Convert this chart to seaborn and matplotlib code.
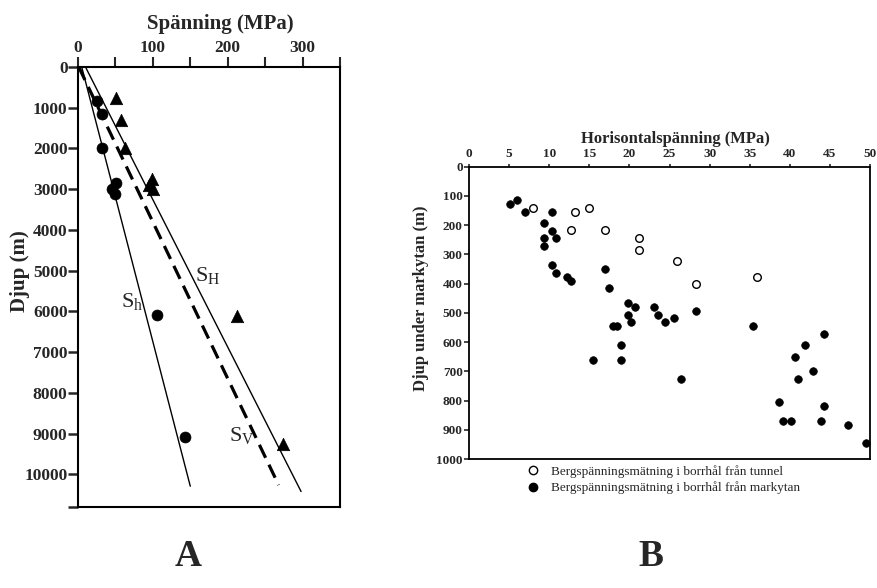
import matplotlib
matplotlib.use("Agg")
import matplotlib.pyplot as plt
import seaborn as sns
from matplotlib.lines import Line2D

# ---- Panel A: stress vs depth ----
# Minimum horizontal stress (circles)
sh_min_stress = [25, 32, 32, 51, 45, 50, 106, 143]
sh_min_depth = [845, 1150, 2000, 2850, 3000, 3115, 6095, 9075]
# Maximum horizontal stress (triangles)
sh_max_stress = [51, 57, 63, 99, 95, 100, 212, 274]
sh_max_depth = [750, 1300, 1980, 2740, 2890, 3000, 6100, 9250]

# Trend lines: stress (MPa) at top and bottom depth (m)
trend_sh_stress = [5, 150]
trend_sh_depth = [0, 10290]
trend_sH_stress = [10, 298]
trend_sH_depth = [0, 10420]
trend_sv_stress = [1, 268]
trend_sv_depth = [0, 10260]

stress_ticks_a = [0, 50, 100, 150, 200, 250, 300, 350]
stress_labels_a = ["0", "", "100", "", "200", "", "300", ""]
depth_ticks_a = [0, 1000, 2000, 3000, 4000, 5000, 6000, 7000, 8000, 9000, 10000, 10800]
depth_labels_a = ["0", "1000", "2000", "3000", "4000", "5000", "6000",
                  "7000", "8000", "9000", "10000", ""]

# ---- Panel B: horizontal stress vs depth below surface ----
tunnel_stress = [8.0, 13.2, 15.0, 12.7, 16.9, 21.2, 21.2, 25.9, 28.3, 35.9]
tunnel_depth = [142, 154, 142, 217, 217, 245, 285, 323, 402, 376]

surface_stress = [5.1, 6.0, 7.0, 10.3, 9.4, 10.3, 9.4, 10.8, 9.4, 10.3,
                  10.8, 12.2, 12.7, 16.9, 17.4, 19.8, 20.75, 19.8, 20.2, 23.1,
                  23.6, 24.5, 25.5, 28.3, 17.9, 18.4, 18.9, 35.4, 44.3, 41.9,
                  40.6, 15.5, 18.9, 26.4, 42.9, 41.0, 38.7, 44.3, 39.1, 40.1,
                  43.9, 47.2, 49.5]
surface_depth = [129, 115, 154, 154, 194, 219, 245, 245, 271, 336,
                 362, 376, 390, 350, 414, 465, 481, 507, 530, 481,
                 507, 530, 519, 494, 545, 545, 610, 545, 571, 610,
                 650, 661, 661, 727, 700, 727, 804, 818, 870, 870,
                 870, 882, 946]

stress_ticks_b = list(range(0, 51, 5))
depth_ticks_b = list(range(0, 1001, 100))

legend_labels = ["Bergspänningsmätning i borrhål från tunnel",
                 "Bergspänningsmätning i borrhål från markytan"]

sns.set_theme(style="ticks")
plt.rcParams["font.family"] = ["Liberation Serif", "DejaVu Serif"]
plt.rcParams["mathtext.fontset"] = "custom"
plt.rcParams["mathtext.rm"] = "Liberation Serif"
plt.rcParams["mathtext.it"] = "Liberation Serif:italic"
plt.rcParams["mathtext.bf"] = "Liberation Serif:bold"

W, H = 877, 588
fig = plt.figure(figsize=(W / 100, H / 100), dpi=100)


def fx(px):
    return px / W


def fy(py):
    return 1 - py / H


# ---------------- Panel A ----------------
axA = fig.add_axes([fx(78), fy(507), fx(340) - fx(78), fy(67) - fy(507)])

sns.lineplot(x=trend_sh_stress, y=trend_sh_depth, ax=axA, color="black",
             linewidth=1.0, sort=False, estimator=None)
sns.lineplot(x=trend_sH_stress, y=trend_sH_depth, ax=axA, color="black",
             linewidth=1.0, sort=False, estimator=None)
sns.lineplot(x=trend_sv_stress, y=trend_sv_depth, ax=axA, color="black",
             linewidth=2.3, sort=False, estimator=None, dashes=False,
             linestyle=(0, (4.5, 2.4)))

sns.scatterplot(x=sh_min_stress, y=sh_min_depth, ax=axA, marker="o",
                color="black", s=62, edgecolor="black", linewidth=0.5)
sns.scatterplot(x=sh_max_stress, y=sh_max_depth, ax=axA, marker="^",
                color="black", s=80, edgecolor="black", linewidth=0.5)

axA.set_xlim(0, 350)
axA.set_ylim(10800, 0)
axA.xaxis.tick_top()
axA.set_xticks(stress_ticks_a)
axA.set_xticklabels(stress_labels_a)
axA.set_yticks(depth_ticks_a)
axA.set_yticklabels(depth_labels_a)
axA.tick_params(axis="x", direction="out", length=7, width=1.5, pad=1,
                labelsize=12.5)
axA.tick_params(axis="y", direction="out", length=7, width=1.8, pad=0.5,
                labelsize=12.5)
for lab in axA.get_xticklabels() + axA.get_yticklabels():
    lab.set_fontweight("bold")
axA.set_xlabel("")
axA.set_ylabel("")
for sp in axA.spines.values():
    sp.set_visible(True)
    sp.set_linewidth(1.5)
    sp.set_color("black")

# Trend line labels
fig.text(fx(208), fy(275), r"$\mathrm{S_H}$", fontsize=16, ha="center", va="center")
fig.text(fx(132), fy(302), r"$\mathrm{S_h}$", fontsize=16, ha="center", va="center")
fig.text(fx(242), fy(435), r"$\mathrm{S_V}$", fontsize=16, ha="center", va="center")

fig.text(fx(220), fy(24), "Spänning (MPa)", fontsize=15, fontweight="bold",
         ha="center", va="center")
fig.text(fx(20), fy(271), "Djup (m)", fontsize=15, fontweight="bold",
         ha="center", va="center", rotation=90)

# ---------------- Panel B ----------------
axB = fig.add_axes([fx(469), fy(459), fx(870) - fx(469), fy(166.7) - fy(459)])

sns.scatterplot(x=surface_stress, y=surface_depth, ax=axB, marker="o",
                color="black", s=30, edgecolor="black", linewidth=0.5)
sns.scatterplot(x=tunnel_stress, y=tunnel_depth, ax=axB, marker="o",
                facecolor="white", s=30, edgecolor="black", linewidth=1.0)

axB.set_xlim(0, 50)
axB.set_ylim(1000, 0)
axB.xaxis.tick_top()
axB.set_xticks(stress_ticks_b)
axB.set_yticks(depth_ticks_b)
axB.tick_params(axis="x", direction="out", length=2.5, width=1.2, pad=2.5,
                labelsize=9.5)
axB.tick_params(axis="y", direction="out", length=3.5, width=1.2, pad=1,
                labelsize=9.5)
for lab in axB.get_xticklabels() + axB.get_yticklabels():
    lab.set_fontweight("bold")
axB.set_xlabel("")
axB.set_ylabel("")
for sp in axB.spines.values():
    sp.set_visible(True)
    sp.set_linewidth(1.3)
    sp.set_color("black")

fig.text(fx(675), fy(139), "Horisontalspänning (MPa)", fontsize=12,
         fontweight="bold", ha="center", va="center")
fig.text(fx(421), fy(298), "Djup under markytan (m)", fontsize=12,
         fontweight="bold", ha="center", va="center", rotation=90)

handles = [
    Line2D([], [], linestyle="none", marker="o", markersize=6,
           markerfacecolor="white", markeredgecolor="black", markeredgewidth=1.0),
    Line2D([], [], linestyle="none", marker="o", markersize=6,
           markerfacecolor="black", markeredgecolor="black"),
]
fig.legend(handles, legend_labels, loc="upper left",
           bbox_to_anchor=(fx(526), fy(465)), frameon=False, fontsize=9.5,
           handlelength=1.0, handletextpad=0.9, labelspacing=0.3,
           borderpad=0, borderaxespad=0)

# Panel letters
fig.text(fx(188), fy(556), "A", fontsize=27, fontweight="bold",
         ha="center", va="center")
fig.text(fx(651), fy(556), "B", fontsize=27, fontweight="bold",
         ha="center", va="center")

fig.savefig("out.png", dpi=100)
